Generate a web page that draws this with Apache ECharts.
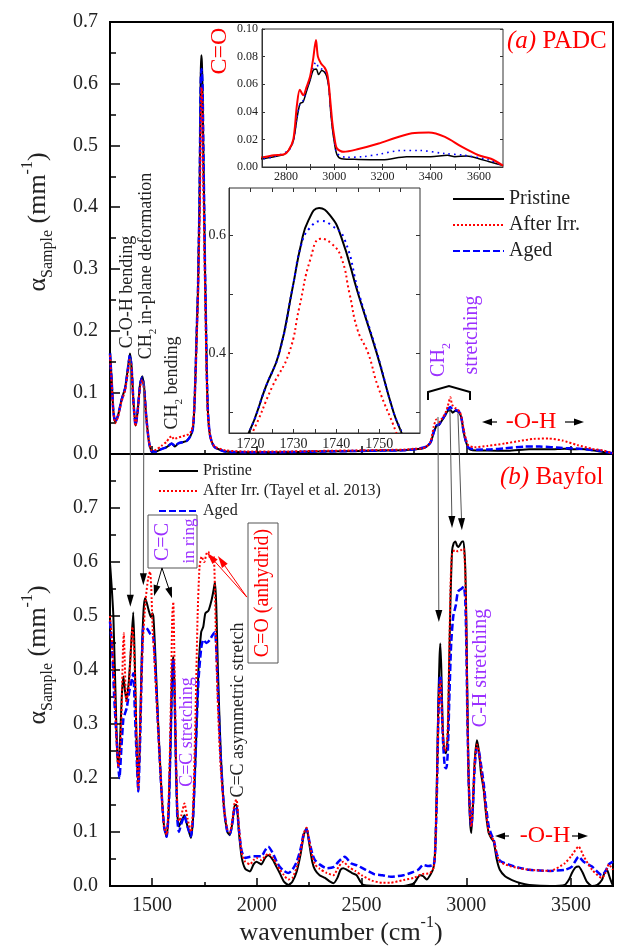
<!DOCTYPE html>
<html><head><meta charset="utf-8">
<script src="https://cdn.jsdelivr.net/npm/echarts@6/dist/echarts.min.js"></script>
<style>html,body{margin:0;padding:0;background:#fff}#c{width:624px;height:951px}</style>
</head><body><div id="c"></div>
<script>
// ---------- data: [wavenumber (cm-1), alpha (mm-1)] ----------
const padcPristine = [[1300,0.166],[1308,0.12],[1316,0.07],[1325,0.052],[1338,0.062],[1355,0.088],[1372,0.107],[1385,0.138],[1395,0.163],[1403,0.142],[1412,0.085],[1422,0.046],[1432,0.07],[1444,0.115],[1454,0.126],[1463,0.108],[1472,0.065],[1485,0.022],[1499,0.004],[1520,0.004],[1545,0.008],[1570,0.011],[1594,0.017],[1610,0.012],[1625,0.017],[1645,0.019],[1665,0.021],[1680,0.027],[1690,0.034],[1697,0.045],[1703,0.08],[1708,0.13],[1713,0.19],[1716.5,0.23],[1719.6,0.264],[1723.6,0.343],[1726.7,0.40],[1729.8,0.51],[1731.8,0.585],[1733.5,0.625],[1736,0.646],[1738.5,0.634],[1741,0.60],[1745.1,0.50],[1749.4,0.40],[1753.3,0.30],[1755.2,0.264],[1758,0.21],[1762,0.13],[1767,0.07],[1775,0.035],[1785,0.02],[1800,0.011],[1850,0.004],[1950,0.003],[2100,0.003],[2300,0.004],[2500,0.005],[2600,0.0055],[2700,0.006],[2750,0.0075],[2790,0.009],[2810,0.012],[2830,0.019],[2845,0.035],[2858,0.046],[2870,0.047],[2885,0.055],[2900,0.063],[2912,0.07],[2925,0.071],[2935,0.067],[2948,0.07],[2958,0.069],[2968,0.066],[2977,0.058],[2985,0.04],[2992,0.028],[3000,0.018],[3011,0.009],[3030,0.006],[3100,0.0055],[3200,0.0053],[3300,0.0075],[3400,0.0075],[3470,0.0085],[3500,0.0075],[3550,0.008],[3600,0.006],[3640,0.004],[3700,0.001]];
const padcIrr = [[1300,0.16],[1308,0.115],[1316,0.068],[1325,0.05],[1338,0.06],[1355,0.085],[1372,0.103],[1385,0.132],[1395,0.155],[1403,0.136],[1412,0.082],[1422,0.045],[1432,0.068],[1444,0.11],[1454,0.12],[1463,0.104],[1472,0.063],[1485,0.022],[1499,0.006],[1520,0.007],[1545,0.013],[1570,0.02],[1585,0.027],[1594,0.029],[1605,0.024],[1620,0.026],[1640,0.028],[1658,0.03],[1675,0.032],[1688,0.037],[1697,0.05],[1703,0.08],[1708,0.125],[1713,0.18],[1716.5,0.215],[1720.4,0.264],[1725.1,0.343],[1729,0.40],[1731.4,0.478],[1734,0.56],[1736.4,0.594],[1738.8,0.586],[1741.1,0.563],[1743.1,0.50],[1745,0.438],[1747.4,0.40],[1749.7,0.343],[1754,0.264],[1757,0.2],[1761,0.13],[1766,0.07],[1775,0.035],[1785,0.02],[1800,0.012],[1850,0.006],[1950,0.004],[2100,0.004],[2300,0.005],[2500,0.006],[2600,0.0065],[2700,0.007],[2750,0.0085],[2790,0.009],[2810,0.012],[2830,0.02],[2845,0.045],[2857,0.056],[2871,0.052],[2885,0.058],[2900,0.066],[2912,0.078],[2924,0.092],[2932,0.08],[2945,0.075],[2960,0.072],[2970,0.068],[2977,0.06],[2985,0.045],[2992,0.032],[3000,0.022],[3011,0.0135],[3039,0.011],[3100,0.013],[3184,0.017],[3252,0.021],[3322,0.0245],[3392,0.025],[3459,0.0218],[3530,0.0145],[3599,0.0085],[3650,0.006],[3700,0.001]];
const padcAged = [[1300,0.163],[1308,0.118],[1316,0.069],[1325,0.052],[1338,0.062],[1355,0.087],[1372,0.106],[1385,0.137],[1395,0.16],[1403,0.14],[1412,0.084],[1422,0.046],[1432,0.07],[1444,0.114],[1454,0.124],[1463,0.107],[1472,0.064],[1485,0.022],[1499,0.004],[1520,0.004],[1545,0.008],[1570,0.011],[1594,0.017],[1610,0.013],[1625,0.017],[1645,0.019],[1665,0.021],[1680,0.027],[1690,0.034],[1697,0.045],[1703,0.08],[1708,0.13],[1713,0.19],[1716.5,0.23],[1719.6,0.264],[1723.6,0.343],[1726.7,0.40],[1729.8,0.51],[1731.8,0.583],[1733.8,0.612],[1736.5,0.624],[1739,0.616],[1741.8,0.595],[1745.3,0.50],[1749.5,0.40],[1753.3,0.30],[1755.3,0.264],[1758,0.21],[1762,0.13],[1767,0.07],[1775,0.035],[1785,0.02],[1800,0.011],[1850,0.004],[1950,0.003],[2100,0.003],[2300,0.004],[2500,0.005],[2600,0.0055],[2700,0.006],[2750,0.0075],[2810,0.012],[2830,0.019],[2845,0.036],[2858,0.046],[2870,0.048],[2885,0.056],[2900,0.064],[2912,0.072],[2924,0.076],[2935,0.072],[2948,0.071],[2960,0.07],[2970,0.066],[2977,0.058],[2985,0.041],[2992,0.029],[3000,0.019],[3011,0.01],[3050,0.007],[3120,0.0075],[3184,0.0092],[3280,0.012],[3350,0.012],[3459,0.0097],[3540,0.0085],[3640,0.0052],[3700,0.001]];

const bayfolPristine = [[1300,0.598],[1308,0.554],[1316,0.50],[1326,0.36],[1334,0.25],[1340,0.221],[1348,0.27],[1356,0.35],[1364,0.388],[1372,0.36],[1379,0.344],[1390,0.38],[1400,0.44],[1411,0.507],[1418,0.42],[1426,0.28],[1435,0.178],[1443,0.28],[1452,0.43],[1460,0.51],[1467,0.533],[1475,0.525],[1485,0.51],[1495,0.498],[1502,0.505],[1507,0.499],[1515,0.44],[1530,0.30],[1545,0.18],[1558,0.11],[1570,0.091],[1580,0.14],[1590,0.28],[1597,0.40],[1602,0.425],[1608,0.36],[1615,0.22],[1622,0.13],[1629,0.11],[1640,0.12],[1655,0.131],[1670,0.11],[1686,0.089],[1697,0.13],[1710,0.26],[1722,0.40],[1735,0.47],[1745,0.48],[1755,0.505],[1770,0.51],[1785,0.53],[1795,0.55],[1801,0.563],[1807,0.52],[1815,0.40],[1828,0.25],[1845,0.14],[1860,0.10],[1872,0.094],[1885,0.12],[1895,0.15],[1904,0.15],[1915,0.10],[1928,0.054],[1945,0.032],[1968,0.027],[1985,0.04],[1999,0.045],[2022,0.04],[2040,0.052],[2055,0.057],[2078,0.048],[2095,0.035],[2111,0.023],[2130,0.008],[2151,0.002],[2170,0.008],[2191,0.027],[2210,0.06],[2225,0.095],[2238,0.107],[2250,0.08],[2265,0.045],[2278,0.03],[2300,0.02],[2326,0.015],[2350,0.008],[2366,0.005],[2385,0.015],[2400,0.03],[2413,0.033],[2430,0.03],[2455,0.024],[2477,0.02],[2495,0.008],[2509,0.002],[2600,0.0],[2700,0.0],[2750,0.005],[2779,0.02],[2795,0.018],[2811,0.012],[2830,0.022],[2843,0.033],[2852,0.07],[2859,0.18],[2866,0.33],[2872,0.42],[2876,0.449],[2881,0.40],[2887,0.30],[2895,0.25],[2903,0.246],[2912,0.28],[2918,0.40],[2924,0.52],[2932,0.62],[2940,0.635],[2948,0.638],[2956,0.63],[2963,0.628],[2970,0.632],[2980,0.638],[2987,0.638],[2995,0.59],[3000,0.50],[3005,0.35],[3011,0.20],[3018,0.12],[3024,0.098],[3032,0.15],[3040,0.23],[3051,0.27],[3060,0.25],[3070,0.21],[3083,0.178],[3095,0.13],[3107,0.098],[3120,0.088],[3131,0.082],[3145,0.05],[3160,0.03],[3185,0.018],[3218,0.011],[3260,0.005],[3300,0.002],[3400,0.0],[3470,0.002],[3490,0.012],[3504,0.024],[3520,0.034],[3536,0.036],[3555,0.025],[3575,0.008],[3600,0.0],[3625,0.002],[3647,0.011],[3660,0.025],[3671,0.03],[3685,0.015],[3700,0.0]];
const bayfolIrr = [[1300,0.50],[1310,0.45],[1320,0.38],[1330,0.28],[1340,0.22],[1348,0.25],[1355,0.32],[1362,0.44],[1366,0.468],[1370,0.42],[1378,0.34],[1390,0.37],[1400,0.44],[1407,0.48],[1413,0.45],[1420,0.38],[1427,0.26],[1435,0.18],[1443,0.28],[1455,0.44],[1470,0.53],[1482,0.57],[1491,0.582],[1497,0.55],[1503,0.48],[1512,0.42],[1530,0.29],[1545,0.18],[1558,0.11],[1570,0.095],[1580,0.16],[1590,0.33],[1597,0.50],[1602,0.526],[1607,0.43],[1614,0.25],[1622,0.14],[1629,0.12],[1640,0.13],[1655,0.153],[1670,0.125],[1686,0.10],[1697,0.15],[1708,0.32],[1718,0.50],[1727,0.59],[1737,0.61],[1750,0.60],[1760,0.615],[1769,0.619],[1780,0.605],[1794,0.61],[1800,0.56],[1806,0.45],[1815,0.33],[1828,0.22],[1845,0.14],[1860,0.105],[1872,0.10],[1885,0.125],[1895,0.155],[1904,0.16],[1915,0.11],[1928,0.062],[1945,0.045],[1968,0.04],[1985,0.048],[1999,0.052],[2022,0.048],[2040,0.055],[2055,0.06],[2078,0.052],[2095,0.04],[2111,0.03],[2130,0.02],[2151,0.012],[2170,0.015],[2191,0.035],[2210,0.065],[2225,0.098],[2238,0.108],[2250,0.085],[2265,0.055],[2278,0.04],[2300,0.032],[2334,0.024],[2366,0.02],[2390,0.035],[2413,0.045],[2440,0.035],[2470,0.028],[2500,0.02],[2550,0.01],[2600,0.006],[2636,0.006],[2700,0.011],[2750,0.015],[2790,0.022],[2827,0.024],[2845,0.035],[2852,0.07],[2859,0.17],[2866,0.30],[2872,0.37],[2877,0.38],[2883,0.33],[2890,0.27],[2898,0.25],[2905,0.255],[2912,0.30],[2918,0.42],[2925,0.56],[2932,0.615],[2945,0.622],[2960,0.62],[2975,0.622],[2987,0.625],[2995,0.58],[3000,0.48],[3005,0.33],[3011,0.20],[3018,0.13],[3024,0.11],[3032,0.16],[3040,0.23],[3051,0.262],[3060,0.25],[3070,0.22],[3083,0.18],[3095,0.135],[3107,0.10],[3120,0.09],[3131,0.085],[3145,0.06],[3160,0.045],[3200,0.038],[3250,0.033],[3300,0.03],[3400,0.028],[3470,0.042],[3500,0.055],[3536,0.073],[3560,0.055],[3600,0.03],[3647,0.015],[3665,0.025],[3680,0.04],[3700,0.03]];
const bayfolAged = [[1300,0.49],[1310,0.44],[1320,0.35],[1332,0.27],[1345,0.20],[1355,0.26],[1364,0.31],[1372,0.32],[1380,0.33],[1392,0.36],[1400,0.375],[1411,0.394],[1418,0.33],[1426,0.25],[1435,0.175],[1443,0.26],[1452,0.41],[1459,0.48],[1467,0.48],[1480,0.475],[1495,0.465],[1507,0.46],[1515,0.41],[1530,0.29],[1545,0.18],[1558,0.11],[1570,0.091],[1580,0.14],[1590,0.28],[1597,0.40],[1602,0.42],[1608,0.36],[1615,0.22],[1622,0.12],[1629,0.10],[1640,0.115],[1655,0.13],[1670,0.11],[1686,0.092],[1697,0.13],[1710,0.26],[1722,0.38],[1735,0.44],[1745,0.456],[1760,0.45],[1775,0.455],[1790,0.465],[1801,0.47],[1807,0.44],[1815,0.36],[1828,0.24],[1845,0.14],[1860,0.10],[1872,0.096],[1885,0.12],[1895,0.145],[1904,0.146],[1915,0.105],[1928,0.065],[1945,0.052],[1968,0.054],[1985,0.055],[1999,0.055],[2022,0.055],[2040,0.066],[2055,0.073],[2078,0.06],[2095,0.045],[2111,0.035],[2130,0.028],[2151,0.024],[2170,0.03],[2191,0.045],[2210,0.07],[2225,0.098],[2238,0.105],[2250,0.085],[2265,0.06],[2278,0.048],[2300,0.04],[2334,0.033],[2366,0.035],[2390,0.045],[2420,0.054],[2450,0.042],[2480,0.038],[2520,0.03],[2560,0.022],[2600,0.02],[2640,0.017],[2700,0.02],[2740,0.025],[2770,0.03],[2795,0.039],[2820,0.037],[2845,0.04],[2852,0.07],[2859,0.16],[2866,0.30],[2872,0.38],[2877,0.39],[2883,0.33],[2890,0.26],[2898,0.22],[2905,0.218],[2912,0.25],[2920,0.36],[2928,0.45],[2938,0.50],[2950,0.52],[2960,0.545],[2975,0.55],[2988,0.554],[2995,0.53],[3000,0.45],[3005,0.32],[3011,0.20],[3018,0.13],[3024,0.11],[3032,0.15],[3040,0.22],[3051,0.255],[3060,0.25],[3070,0.225],[3083,0.19],[3095,0.145],[3107,0.11],[3120,0.095],[3131,0.085],[3145,0.06],[3160,0.047],[3200,0.04],[3250,0.034],[3300,0.03],[3400,0.028],[3470,0.03],[3504,0.036],[3536,0.054],[3560,0.045],[3600,0.036],[3647,0.02],[3665,0.028],[3680,0.04],[3700,0.045]];

// tick values
const mainXMajor = [1500,2000,2500,3000,3500];
const mainXMinor = [1750,2250,2750,3250];
const insetTopXLabels = [2800,3000,3200,3400,3600];
const insetTopXTicks = [2800,2900,3000,3100,3200,3300,3400,3500,3600];
const insetMidXLabels = [1720,1730,1740,1750];
const insetMidXTicks = [1720,1725,1730,1735,1740,1745,1750,1755];
const insetMidYLabels = [0.4,0.6];
const insetMidYTicks = [0.3,0.4,0.5,0.6];

// ---------- styling ----------
const FONT = 'Liberation Serif';
const RED = '#ff0000', BLUE = '#0000ff', BLACK = '#000000', PURPLE = '#9b30ff', TXT = '#222';
const chart = echarts.init(document.getElementById('c'), null, {renderer:'canvas'});
const plain = v => String(Math.round(v));

function xAx(grid, min, max, opt){
  return Object.assign({type:'value', gridIndex:grid, min, max, splitLine:{show:false},
    axisLine:{show:true, onZero:false, lineStyle:{color:BLACK, width:2}}}, opt);
}
function yAx(grid, min, max, opt){
  return Object.assign({type:'value', gridIndex:grid, min, max, splitLine:{show:false},
    axisLine:{show:true, onZero:false, lineStyle:{color:BLACK, width:2}}}, opt);
}
const lab = (size, extra) => Object.assign({fontFamily:FONT, fontSize:size, color:TXT}, extra);

const xAxis = [
  xAx(0,1300,3700,{position:'bottom', axisTick:{inside:true,length:8,customValues:mainXMajor,lineStyle:{width:1.5,color:BLACK}}, axisLabel:{show:false}}),
  xAx(0,1300,3700,{position:'bottom', axisLine:{show:false}, axisTick:{inside:true,length:4,customValues:mainXMinor,lineStyle:{width:1.5,color:BLACK}}, axisLabel:{show:false}}),
  xAx(1,1300,3700,{position:'bottom', axisTick:{inside:true,length:8,customValues:mainXMajor,lineStyle:{width:1.5,color:BLACK}}, axisLabel:lab(20,{margin:10,customValues:mainXMajor,formatter:plain})}),
  xAx(1,1300,3700,{position:'bottom', axisLine:{show:false}, axisTick:{inside:true,length:4,customValues:mainXMinor,lineStyle:{width:1.5,color:BLACK}}, axisLabel:{show:false}}),
  xAx(2,2700,3700,{position:'bottom', z:12, axisLine:{onZero:false,lineStyle:{color:'#333',width:1}}, axisTick:{inside:true,length:3,customValues:insetTopXTicks,lineStyle:{color:'#333'}}, axisLabel:lab(12,{margin:4,customValues:insetTopXLabels,formatter:plain})}),
  xAx(2,2700,3700,{position:'top', z:12, axisLine:{show:false}, axisTick:{inside:true,length:3,customValues:insetTopXTicks,lineStyle:{color:'#333'}}, axisLabel:{show:false}}),
  xAx(3,1715,1759.5,{position:'bottom', z:12, axisLine:{onZero:false,lineStyle:{color:'#333',width:1}}, axisTick:{inside:true,length:4,customValues:insetMidXTicks,lineStyle:{color:'#333'}}, axisLabel:lab(14,{margin:4,customValues:insetMidXLabels,formatter:plain})}),
  xAx(3,1715,1759.5,{position:'top', z:12, axisLine:{show:false}, axisTick:{inside:true,length:4,customValues:insetMidXTicks,lineStyle:{color:'#333'}}, axisLabel:{show:false}})
];
const yAxis = [
  yAx(0,0,0.7,{interval:0.1, axisTick:{inside:true,length:10,lineStyle:{width:1.5,color:BLACK}}, minorTick:{show:true,splitNumber:2,length:6,lineStyle:{width:1.5,color:BLACK}}, axisLabel:lab(20,{margin:12,formatter:v=>v.toFixed(1)})}),
  yAx(1,0,0.8,{interval:0.1, axisTick:{inside:true,length:10,lineStyle:{width:1.5,color:BLACK}}, minorTick:{show:true,splitNumber:2,length:6,lineStyle:{width:1.5,color:BLACK}}, axisLabel:lab(20,{margin:12,formatter:v=>v>0.75?'':v.toFixed(1)})}),
  yAx(2,0,0.1,{interval:0.02, z:12, axisLine:{onZero:false,lineStyle:{color:'#333',width:1}}, axisTick:{inside:true,length:3,lineStyle:{color:'#333'}}, axisLabel:lab(12,{margin:4,formatter:v=>v.toFixed(2)})}),
  yAx(2,0,0.1,{interval:0.02, z:12, position:'right', axisLine:{show:false}, axisTick:{inside:true,length:3,lineStyle:{color:'#333'}}, axisLabel:{show:false}}),
  yAx(3,0.264,0.68,{z:12, axisLine:{onZero:false,lineStyle:{color:'#333',width:1}}, axisTick:{inside:true,length:4,customValues:insetMidYTicks,lineStyle:{color:'#333'}}, axisLabel:lab(14,{margin:3,customValues:insetMidYLabels,formatter:v=>(+v).toFixed(1)})}),
  yAx(3,0.264,0.68,{z:12, position:'right', axisLine:{show:false}, axisTick:{inside:true,length:4,customValues:insetMidYTicks,lineStyle:{color:'#333'}}, axisLabel:{show:false}})
];

function line(name, data, xi, yi, color, width, type, z, smooth){
  return {type:'line', name, data, xAxisIndex:xi, yAxisIndex:yi, symbol:'none', showSymbol:false,
    smooth:smooth==null?0.2:smooth, clip:true, z:z||2, silent:true,
    itemStyle:{color}, lineStyle:{color, width, type}};
}
const DOT = [2,2], DASH = [7,3];
const series = [
  line('PADC Pristine', padcPristine, 0,0, BLACK, 2, 'solid'),
  line('PADC Aged', padcAged, 0,0, BLUE, 2.5, DASH),
  line('PADC After Irr.', padcIrr, 0,0, RED, 2, DOT),
  line('Bayfol Pristine', bayfolPristine, 2,1, BLACK, 2, 'solid'),
  line('Bayfol Aged', bayfolAged, 2,1, BLUE, 2.5, DASH),
  line('Bayfol After Irr.', bayfolIrr, 2,1, RED, 2, DOT),
  line('i1', padcPristine, 4,2, BLACK, 1.5, 'solid', 11, 0.3),
  line('i2', padcAged, 4,2, BLUE, 1.6, [1.6,4], 11, 0.3),
  line('i3', padcIrr, 4,2, RED, 2, 'solid', 11, 0.3),
  line('m1', padcPristine, 6,4, BLACK, 2, 'solid', 11, 0.5),
  line('m2', padcAged, 6,4, BLUE, 2, [2,4], 11, 0.5),
  line('m3', padcIrr, 6,4, RED, 2, [2,3], 11, 0.5)
];

const legendText = {'PADC Pristine':'Pristine','PADC After Irr.':'After Irr.','PADC Aged':'Aged',
  'Bayfol Pristine':'Pristine','Bayfol After Irr.':'After Irr. (Tayel et al. 2013)','Bayfol Aged':'Aged'};

const option = {
  animation:false, backgroundColor:'#fff',
  grid:[
    {left:110, top:22, width:503, height:432, show:true, borderColor:BLACK, borderWidth:2, backgroundColor:'transparent'},
    {left:110, top:454, width:503, height:432, show:true, borderColor:BLACK, borderWidth:2, backgroundColor:'transparent'},
    {left:262, top:29, width:241, height:138, show:true, borderColor:'#333', borderWidth:1, backgroundColor:'#fff', z:10},
    {left:229, top:188, width:191, height:245, show:true, borderColor:'#333', borderWidth:1, backgroundColor:'#fff', z:10}
  ],
  xAxis, yAxis, series,
  legend:[
    {data:['PADC Pristine','PADC After Irr.','PADC Aged'], orient:'vertical', left:452, top:189, padding:0,
     itemWidth:51, itemHeight:14, itemGap:6, selectedMode:false, formatter:n=>legendText[n],
     itemStyle:{opacity:0}, textStyle:{fontFamily:FONT, fontSize:20, color:TXT, lineHeight:20}},
    {data:['Bayfol Pristine','Bayfol After Irr.','Bayfol Aged'], orient:'vertical', left:158, top:463, padding:0,
     itemWidth:39, itemHeight:12, itemGap:4, selectedMode:false, formatter:n=>legendText[n],
     itemStyle:{opacity:0}, textStyle:{fontFamily:FONT, fontSize:16, color:TXT, lineHeight:16}}
  ]
};
chart.setOption(option);

// ---------- annotations ----------
function txt(x, y, text, color, size, rot, rich, extra){
  const st = Object.assign({text, fill:color, fontFamily:FONT, fontSize:size,
    align:'center', verticalAlign:'middle', textAlign:'center', textVerticalAlign:'middle'}, extra||{});
  if (rich) st.rich = rich;
  return {type:'text', x, y, rotation:rot?Math.PI/2:0, style:st, z:100, silent:true};
}
function subRich(size, color){
  return {
    a:{fontSize:size, fontFamily:FONT, fill:color, color, lineHeight:size*1.4},
    s:{fontSize:Math.round(size*0.62), fontFamily:FONT, fill:color, color, lineHeight:size*0.8, verticalAlign:'bottom'},
    p:{fontSize:Math.round(size*0.62), fontFamily:FONT, fill:color, color, lineHeight:size*0.8, verticalAlign:'top'},
    i:{fontSize:size, fontFamily:FONT, fill:color, color, fontStyle:'italic', lineHeight:size*1.4}
  };
}
function arrow(p0, p1, lineColor, headColor, lw, len, w){
  const dx=p1[0]-p0[0], dy=p1[1]-p0[1], L=Math.hypot(dx,dy), ux=dx/L, uy=dy/L;
  const bx=p1[0]-ux*len, by=p1[1]-uy*len;
  return [
    {type:'line', shape:{x1:p0[0],y1:p0[1],x2:bx+ux*2,y2:by+uy*2}, style:{stroke:lineColor, lineWidth:lw}, z:99, silent:true},
    {type:'polygon', shape:{points:[[p1[0],p1[1]],[bx-uy*w/2,by+ux*w/2],[bx+uy*w/2,by-ux*w/2]]}, style:{fill:headColor}, z:100, silent:true}
  ];
}
const P = (g, x, y) => chart.convertToPixel({gridIndex:g}, [x, y]);

// peak connectors, in data coordinates (wavenumber, alpha) of each panel
const connectors = [
  [[1397,0.155],[1397,0.517]],
  [[1462,0.118],[1459,0.557]],
  [[2865,0.06],[2869,0.489]],
  [[2922,0.071],[2932,0.663]],
  [[2960,0.066],[2979,0.659]]
];
const g = [];
connectors.forEach(c => g.push(...arrow(P(0,c[0][0],c[0][1]), P(1,c[1][0],c[1][1]), '#555', BLACK, 1, 12, 7)));
g.push(...arrow(P(1,1548,0.589), P(1,1510,0.537), BLACK, BLACK, 1, 11, 7));
g.push(...arrow(P(1,1548,0.589), P(1,1596,0.533), BLACK, BLACK, 1, 11, 7));
g.push(...arrow(P(1,1953,0.535), P(1,1763,0.617), RED, RED, 1, 12, 7));
g.push(...arrow(P(1,1953,0.535), P(1,1815,0.611), RED, RED, 1, 12, 7));
g.push(...arrow([497,422],[482,422], BLACK, BLACK, 1.2, 10, 7));
g.push(...arrow([565,422],[584,422], BLACK, BLACK, 1.2, 10, 7));
g.push(...arrow([509,836],[495,836], BLACK, BLACK, 1.2, 10, 7));
g.push(...arrow([572,836],[588,836], BLACK, BLACK, 1.2, 10, 7));

g.push({type:'rect', shape:{x:148,y:515,width:49,height:53}, style:{fill:'#fff', stroke:'#555', lineWidth:1}, z:98, silent:true});
g.push({type:'rect', shape:{x:248,y:523,width:30,height:140}, style:{fill:'#fff', stroke:'#555', lineWidth:1}, z:98, silent:true});
g.push({type:'polyline', shape:{points:[[428,400],[428,392],[449,386],[470,392],[470,400]]}, style:{stroke:BLACK, lineWidth:2, fill:null}, z:100, silent:true});

g.push(txt(220,51,'C=O',RED,24,true));
g.push(txt(507,41,'{i|(a)}{a| PADC}',RED,25,false,subRich(25,RED),{align:'left',textAlign:'left'}));
g.push(txt(500,477,'{i|(b)}{a| Bayfol}',RED,25,false,subRich(25,RED),{align:'left',textAlign:'left'}));
g.push(txt(127,292,'C-O-H bending',TXT,18,true));
g.push(txt(146,266,'{a|CH}{s|2}{a| in-plane deformation}',TXT,18,true,subRich(18,TXT)));
g.push(txt(172,383,'{a|CH}{s|2}{a| bending}',TXT,18,true,subRich(18,TXT)));
g.push(txt(439,360,'{a|CH}{s|2}',PURPLE,20,true,subRich(20,PURPLE)));
g.push(txt(472,335,'stretching',PURPLE,20,true));
g.push(txt(531,422,'-O-H',RED,24,false));
g.push(txt(545,836,'-O-H',RED,24,false));
g.push(txt(163,542,'C=C',PURPLE,20,true));
g.push(txt(190,541,'in ring',PURPLE,17,true));
g.push(txt(263,593,'C=O (anhydrid)',RED,20,true));
g.push(txt(187,732,'C=C stretching',PURPLE,18,true));
g.push(txt(238,710,'C=C asymmetric stretch',TXT,18,true));
g.push(txt(481,668,'C-H stretching',PURPLE,20,true));
g.push(txt(38,222,'{a|α}{s|Sample}{a| (mm}{p|-1}{a|)}',TXT,26,true,subRich(26,TXT)));
g.push(txt(38,655,'{a|α}{s|Sample}{a| (mm}{p|-1}{a|)}',TXT,26,true,subRich(26,TXT)));
g.push(txt(341,933,'{a|wavenumber (cm}{p|-1}{a|)}',TXT,26,false,subRich(26,TXT)));

chart.setOption({graphic:{elements:g}});
</script>
</body></html>
